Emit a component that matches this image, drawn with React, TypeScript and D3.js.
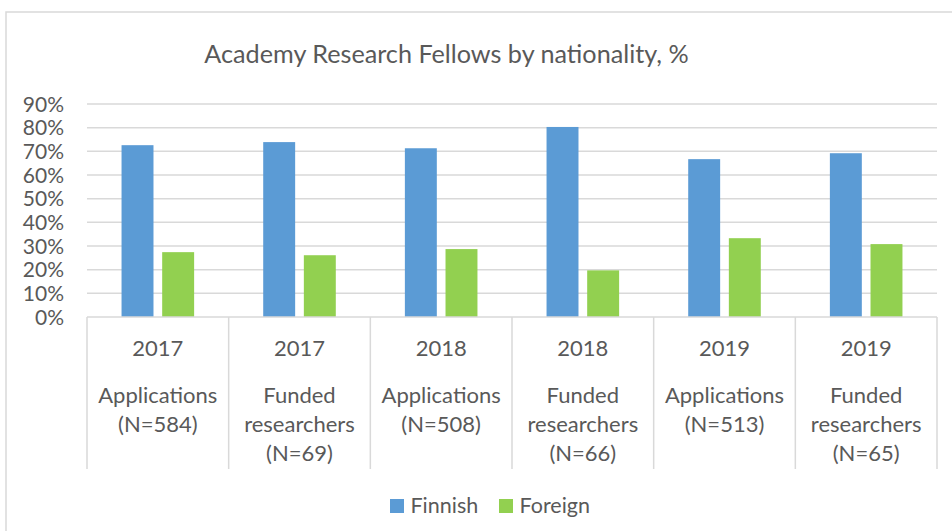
import React from "react";
import * as d3 from "d3";

const categories = ["c1", "c2", "c3", "c4", "c5", "c6"];
const yearLabels = ["2017", "2017", "2018", "2018", "2019", "2019"];
const detailLabels = [
  ["Applications", "(N=584)"],
  ["Funded", "researchers", "(N=69)"],
  ["Applications", "(N=508)"],
  ["Funded", "researchers", "(N=66)"],
  ["Applications", "(N=513)"],
  ["Funded", "researchers", "(N=65)"],
];
const finnish = [72.6, 73.9, 71.3, 80.3, 66.7, 69.2];
const foreign = [27.4, 26.1, 28.7, 19.7, 33.3, 30.8];
const seriesNames = ["Finnish", "Foreign"];
const yTicks = [0, 10, 20, 30, 40, 50, 60, 70, 80, 90];

const COLORS = ["#5B9BD5", "#92D050"];
const TEXT = "#595959";
const GRID = "#D9D9D9";
const FONT = "Lato, 'Open Sans', sans-serif";

export default function App() {
  const W = 952, H = 531;
  const left = 87, right = 937, top = 104, bottom = 317;
  const x = d3.scaleBand<string>().domain(categories).range([left, right]).paddingInner(0).paddingOuter(0);
  const inner = d3.scaleBand<string>().domain(seriesNames).range([0, x.bandwidth()]).paddingInner(0.214).paddingOuter(0.85);
  const y = d3.scaleLinear().domain([0, 90]).range([bottom, top]);
  const series = [finnish, foreign];

  return (
    <svg width={W} height={H} style={{ position: "absolute", left: 0, top: 0, background: "#fff" }} fontFamily={FONT}>
      <rect x={6} y={12} width={W + 10} height={H + 10} fill="#fff" stroke={GRID} strokeWidth={1.5} />
      <text x={446.5} y={63} textAnchor="middle" fontSize={25.2} fill={TEXT}>
        Academy Research Fellows by nationality, %
      </text>
      {yTicks.map((t) => (
        <g key={t}>
          {t > 0 && <line x1={left} x2={right} y1={y(t)} y2={y(t)} stroke={GRID} strokeWidth={1.5} />}
          <text x={64} y={y(t) + 7.5} textAnchor="end" fontSize={21} fill={TEXT}>{t}%</text>
        </g>
      ))}
      {categories.map((c, i) => (
        <g key={c}>
          {series.map((s, k) => (
            <rect key={k} x={x(c)! + inner(seriesNames[k])!} width={inner.bandwidth()} y={y(s[i])} height={y(0) - y(s[i])} fill={COLORS[k]} />
          ))}
        </g>
      ))}
      <line x1={left} x2={right} y1={bottom} y2={bottom} stroke={GRID} strokeWidth={1.5} />
      {[...categories.map((c) => x(c)!), right].map((xv, i) => (
        <line key={i} x1={xv} x2={xv} y1={bottom} y2={469} stroke={GRID} strokeWidth={1.5} />
      ))}
      {categories.map((c, i) => {
        const cx = x(c)! + x.bandwidth() / 2;
        return (
          <g key={c} fontSize={22} fill={TEXT} textAnchor="middle">
            <text x={cx} y={356}>{yearLabels[i]}</text>
            {detailLabels[i].map((l, j) => (
              <text key={j} x={cx} y={403 + j * 29}>{l}</text>
            ))}
          </g>
        );
      })}
      {seriesNames.map((n, k) => {
        const lx = [390, 499][k];
        return (
          <g key={n}>
            <rect x={lx} y={499} width={14} height={14} fill={COLORS[k]} />
            <text x={lx + 20.5} y={513} fontSize={21.5} fill={TEXT}>{n}</text>
          </g>
        );
      })}
    </svg>
  );
}
